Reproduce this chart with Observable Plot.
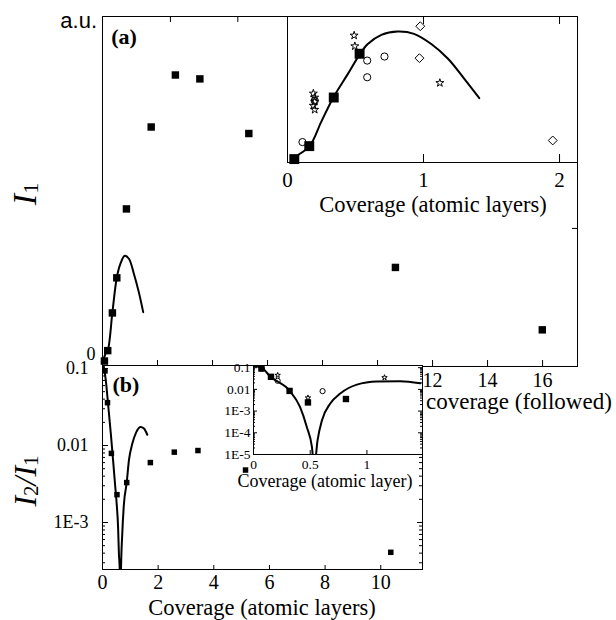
<!DOCTYPE html>
<html>
<head>
<meta charset="utf-8">
<script src="https://cdn.jsdelivr.net/npm/d3@7"></script>
<script src="https://cdn.jsdelivr.net/npm/@observablehq/plot@0.6"></script>
<style>
html, body { margin: 0; padding: 0; background: #fff; }
#chart { position: relative; width: 616px; height: 620px; overflow: hidden; }
#chart svg { position: absolute; left: 0; top: 0; }
#chart svg text { font-family: 'Liberation Serif', 'Times New Roman', Times, serif; }
#chart svg text.sans { font-family: 'Liberation Sans', Arial, sans-serif; }
</style>
</head>
<body>
<div id="chart"></div>
<script>
// ---------------- DATA ----------------
// Panel (a), main axes: I1 (a.u.) vs coverage
const aCov = [0.07, 0.19, 0.36, 0.52, 0.87, 1.77, 2.65, 3.54, 5.32, 10.65, 15.99];
const aI1  = [-0.02, 0.06, 0.35, 0.62, 1.15, 1.78, 2.18, 2.15, 1.73, 0.70, 0.22];
const aFitCov = [0.0, 0.11, 0.19, 0.36, 0.52, 0.65, 0.81, 0.96, 1.14, 1.32, 1.48];
const aFitI1  = [-0.04, 0.036, 0.06, 0.354, 0.623, 0.728, 0.79, 0.767, 0.652, 0.51, 0.356];
const aXTicks = [2, 4, 6, 8, 10, 12, 14, 16];
const aXTickLabels = [12, 14, 16];
const aTopTicks = [2.47, 4.92];
const aRightTicks = [1, 2];

// Panel (a), inset
const iaSqCov = [0.05, 0.16, 0.34, 0.53];
const iaSqI1  = [-0.03, 0.05, 0.35, 0.62];
const iaCircCov = [0.11, 0.20, 0.586, 0.586, 0.713];
const iaCircI1  = [0.075, 0.33, 0.578, 0.475, 0.603];
const iaStarCov = [0.19, 0.20, 0.20, 0.19, 0.20, 0.49, 0.495, 1.12];
const iaStarI1  = [0.375, 0.35, 0.325, 0.30, 0.275, 0.733, 0.667, 0.44];
const iaDiaCov = [0.976, 0.97, 1.95];
const iaDiaI1  = [0.79, 0.593, 0.085];
const iaFitCov = [0.03, 0.052, 0.162, 0.248, 0.338, 0.444, 0.53, 0.59, 0.69, 0.81, 0.93, 1.057, 1.18, 1.30, 1.41];
const iaFitI1  = [-0.03, -0.018, 0.05, 0.2, 0.352, 0.496, 0.615, 0.68, 0.737, 0.757, 0.743, 0.68, 0.589, 0.465, 0.346];
const iaXTicks = [0, 1, 2];
const iaInTicks = [1, 2];

// Panel (b), main axes: I2/I1 vs coverage
const bCov   = [0.09, 0.18, 0.32, 0.52, 0.87, 1.72, 2.58, 3.43, 5.14, 10.36];
const bRatio = [0.093, 0.036, 0.0079, 0.0023, 0.0033, 0.0060, 0.0082, 0.0086, 0.0048, 0.00041];
const bFitCov   = [0.02, 0.12, 0.20, 0.30, 0.38, 0.45, 0.51, 0.56, 0.59, 0.62, 0.64, 0.665, 0.71, 0.77, 0.87, 0.95, 1.07, 1.21, 1.37, 1.49, 1.61];
const bFitRatio = [0.120, 0.0698, 0.0347, 0.0141, 0.00646, 0.00316, 0.00174, 0.00087, 0.00039, 0.00024, 0.00003, 0.00024, 0.00071, 0.00174, 0.0033, 0.00646, 0.0105, 0.0148, 0.0174, 0.0166, 0.0138];
const bXTicks = [0, 2, 4, 6, 8, 10];
const bYTicks = [0.1, 0.01, 0.001];
const bYTickLabels = ["0.1", "0.01", "1E-3"];

// Panel (b), inset
const ibSqCov   = [0.07, 0.154, 0.318, 0.48, 0.815];
const ibSqRatio = [0.091, 0.038, 0.0085, 0.0025, 0.0036];
const ibCircCov   = [0.074, 0.213, 0.609];
const ibCircRatio = [0.091, 0.025, 0.0083];
const ibStarCov   = [0.213, 0.48, 1.155];
const ibStarRatio = [0.045, 0.0041, 0.035];
const ibFitCov   = [0, 0.07, 0.15, 0.32, 0.41, 0.47, 0.515, 0.535, 0.565, 0.604, 0.677, 0.765, 0.912, 1.09, 1.295, 1.47];
const ibFitRatio = [0.120, 0.1, 0.038, 0.0085, 0.00155, 0.000186, 0.0000224, 0.0000025, 0.000046, 0.00038, 0.00224, 0.00646, 0.0166, 0.0229, 0.024, 0.019];
const ibXTicks = [0, 0.5, 1];
const ibXTickLabels = ["0", "0.5", "1"];
const ibYTicks = [0.1, 0.01, 0.001, 0.0001, 0.00001];
const ibYTickLabels = ["0.1", "0.01", "1E-3", "1E-4", "1E-5"];

// ---------------- HELPERS ----------------
const W = 616, H = 620;
const serif = "'Liberation Serif', 'Times New Roman', Times, serif";
const sans = "'Liberation Sans', Arial, sans-serif";
const baseStyle = "background: transparent; font-family: 'Liberation Serif', 'Times New Roman', Times, serif; color: black; overflow: visible;";
const pts = (xs, ys) => xs.map((x, i) => ({x, y: ys[i]}));
const intFmt = d => String(d);
function logMinor(lo, hi) {
  const t = [];
  for (let e = Math.floor(Math.log10(lo)); e <= Math.ceil(Math.log10(hi)); e++)
    for (let m = 2; m <= 9; m++) { const v = m * Math.pow(10, e); if (v > lo && v < hi) t.push(v); }
  return t;
}
const diamondSym = d3.symbolDiamond2 || "diamond";
const container = document.getElementById("chart");

// ---------------- PANEL (a) MAIN ----------------
{
  const ml = 102, mr = 39, mt = 16, mb = 254;
  const fw = W - ml - mr, fh = H - mt - mb;
  container.appendChild(Plot.plot({
    width: W, height: H, marginLeft: ml, marginRight: mr, marginTop: mt, marginBottom: mb,
    style: baseStyle,
    x: {domain: [0, 17.27]},
    y: {domain: [-0.062, 2.63]},
    marks: [
      Plot.frame({stroke: "black"}),
      Plot.ruleX(aXTicks, {insetTop: fh - 6, stroke: "black"}),
      Plot.ruleX(aTopTicks, {insetBottom: fh - 6, stroke: "black"}),
      Plot.ruleY(aRightTicks, {insetLeft: fw - 5, stroke: "black"}),
      Plot.axisX({ticks: aXTickLabels, tickFormat: intFmt, tickSize: 0, tickPadding: 6, fontSize: 20, fontFamily: serif, label: null}),
      Plot.axisY({ticks: [0], tickFormat: intFmt, tickSize: 0, tickPadding: 7, fontSize: 18, fontFamily: serif, dy: -4, label: null}),
      Plot.line(pts(aFitCov, aFitI1), {x: "x", y: "y", curve: "catmull-rom", stroke: "black", strokeWidth: 2}),
      Plot.dot(pts(aCov, aI1), {x: "x", y: "y", symbol: "square", r: 4.2, fill: "black"})
    ]
  }));
}

// ---------------- PANEL (a) INSET ----------------
{
  const ml = 287, mr = 39, mt = 16, mb = 458;
  const fh = H - mt - mb;
  container.appendChild(Plot.plot({
    width: W, height: H, marginLeft: ml, marginRight: mr, marginTop: mt, marginBottom: mb,
    style: baseStyle,
    x: {domain: [0, 2.132]},
    y: {domain: [-0.051, 0.85], axis: null},
    marks: [
      Plot.frame({fill: "white", stroke: "black"}),
      Plot.ruleX(iaInTicks, {insetTop: fh - 8, stroke: "black"}),
      Plot.ruleX(iaInTicks, {insetBottom: fh - 8, stroke: "black"}),
      Plot.axisX({ticks: iaXTicks, tickFormat: intFmt, tickSize: 0, tickPadding: 10, fontSize: 21, fontFamily: serif, label: null}),
      Plot.line(pts(iaFitCov, iaFitI1), {x: "x", y: "y", curve: "catmull-rom", stroke: "black", strokeWidth: 2}),
      Plot.dot(pts(iaCircCov, iaCircI1), {x: "x", y: "y", symbol: "circle", r: 3.6, fill: "none", stroke: "black", strokeWidth: 1}),
      Plot.dot(pts(iaStarCov, iaStarI1), {x: "x", y: "y", symbol: "star", r: 2.5, fill: "none", stroke: "black", strokeWidth: 1}),
      Plot.dot(pts(iaDiaCov, iaDiaI1), {x: "x", y: "y", symbol: diamondSym, r: 4, fill: "none", stroke: "black", strokeWidth: 1}),
      Plot.dot(pts(iaSqCov, iaSqI1), {x: "x", y: "y", symbol: "square", r: 5.6, fill: "black"})
    ]
  }));
}

// ---------------- PANEL (b) MAIN ----------------
{
  const ml = 102, mr = 194, mt = 365, mb = 51;
  const fw = W - ml - mr, fh = H - mt - mb;
  const yDom = [2.452e-4, 0.1094];
  const minor = logMinor(yDom[0], yDom[1]);
  container.appendChild(Plot.plot({
    width: W, height: H, marginLeft: ml, marginRight: mr, marginTop: mt, marginBottom: mb,
    style: baseStyle,
    x: {domain: [0, 11.5]},
    y: {type: "log", domain: yDom},
    marks: [
      Plot.frame({fill: "white", stroke: "black"}),
      Plot.ruleX(bXTicks.slice(1), {insetTop: fh - 4, stroke: "black"}),
      Plot.ruleY(bYTicks, {insetRight: fw - 6, stroke: "black"}),
      Plot.ruleY(minor, {insetRight: fw - 3, stroke: "black"}),
      Plot.ruleY(bYTicks, {insetLeft: fw - 5, stroke: "black"}),
      Plot.ruleY(minor, {insetLeft: fw - 3, stroke: "black"}),
      Plot.axisX({ticks: bXTicks, tickFormat: intFmt, tickSize: 0, tickPadding: 5, fontSize: 20, fontFamily: serif, label: null}),
      Plot.axisY({ticks: bYTicks, tickFormat: d => bYTickLabels[bYTicks.indexOf(d)], tickSize: 0, tickPadding: 14, fontSize: 18, fontFamily: serif, label: null}),
      Plot.line(pts(bFitCov, bFitRatio), {x: "x", y: "y", curve: "monotone-x", stroke: "black", strokeWidth: 2, clip: true}),
      Plot.dot(pts(bCov, bRatio), {x: "x", y: "y", symbol: "square", r: 3.1, fill: "black"})
    ]
  }));
}

// ---------------- PANEL (b) INSET ----------------
{
  const ml = 253, mr = 194, mt = 365, mb = 166;
  const fw = W - ml - mr, fh = H - mt - mb;
  const yDom = [1e-5, 0.126];
  const minor = logMinor(yDom[0], yDom[1]);
  container.appendChild(Plot.plot({
    width: W, height: H, marginLeft: ml, marginRight: mr, marginTop: mt, marginBottom: mb,
    style: baseStyle,
    x: {domain: [0, 1.49]},
    y: {type: "log", domain: yDom},
    marks: [
      Plot.frame({fill: "white", stroke: "black"}),
      Plot.ruleX(ibXTicks.slice(1), {insetTop: fh - 4, stroke: "black"}),
      Plot.ruleY(ibYTicks, {insetRight: fw - 4, stroke: "black"}),
      Plot.ruleY(minor, {insetRight: fw - 2, stroke: "black"}),
      Plot.ruleY(ibYTicks, {insetLeft: fw - 4, stroke: "black"}),
      Plot.ruleY(minor, {insetLeft: fw - 2, stroke: "black"}),
      Plot.axisX({ticks: ibXTicks, tickFormat: d => ibXTickLabels[ibXTicks.indexOf(d)], tickSize: 0, tickPadding: 5, fontSize: 13.5, fontFamily: serif, label: null}),
      Plot.axisY({ticks: ibYTicks, tickFormat: d => ibYTickLabels[ibYTicks.indexOf(d)], tickSize: 0, tickPadding: 3, fontSize: 13.5, fontFamily: serif, label: null}),
      Plot.line(pts(ibFitCov, ibFitRatio), {x: "x", y: "y", curve: "monotone-x", stroke: "black", strokeWidth: 2, clip: true}),
      Plot.dot(pts(ibCircCov, ibCircRatio), {x: "x", y: "y", symbol: "circle", r: 2.6, fill: "none", stroke: "black", strokeWidth: 1}),
      Plot.dot(pts(ibStarCov, ibStarRatio), {x: "x", y: "y", symbol: "star", r: 1.7, fill: "none", stroke: "black", strokeWidth: 1}),
      Plot.dot(pts(ibSqCov, ibSqRatio), {x: "x", y: "y", symbol: "square", r: 3.6, fill: "black"})
    ]
  }));
}

// ---------------- LABEL OVERLAY ----------------
{
  const ov = d3.create("svg").attr("width", W).attr("height", H).attr("viewBox", `0 0 ${W} ${H}`)
    .style("font-family", serif).style("overflow", "visible");
  const txt = (x, y, s, size, anchor, extra = {}) => {
    const t = ov.append("text").attr("x", x).attr("y", y).attr("font-size", size)
      .attr("text-anchor", anchor).attr("fill", "black").text(s);
    for (const k in extra) t.attr(k, extra[k]);
    return t;
  };
  txt(97, 28, "a.u.", 22, "end", {"class": "sans"});
  txt(124, 44, "(a)", 22, "middle", {"font-weight": "bold"});
  txt(126, 392, "(b)", 22, "middle", {"font-weight": "bold"});
  txt(426, 409, "coverage (followed)", 23, "start");
  txt(433, 212, "Coverage (atomic layers)", 22.5, "middle");
  txt(262, 615, "Coverage (atomic layers)", 22.5, "middle");
  txt(325, 487, "Coverage (atomic layer)", 18, "middle");

  const y1 = ov.append("text").attr("transform", "translate(36,194) rotate(-90)").attr("text-anchor", "middle").attr("fill", "black");
  y1.append("tspan").attr("font-style", "italic").attr("font-size", 34).text("I");
  y1.append("tspan").attr("font-size", 22).attr("dy", 2).text("1");

  const y2 = ov.append("text").attr("transform", "translate(36,481) rotate(-90)").attr("text-anchor", "middle").attr("fill", "black");
  y2.append("tspan").attr("font-style", "italic").attr("font-size", 32).text("I");
  y2.append("tspan").attr("font-size", 21).attr("dy", 2).text("2");
  y2.append("tspan").attr("font-style", "italic").attr("font-size", 32).attr("dy", -2).text("/");
  y2.append("tspan").attr("font-style", "italic").attr("font-size", 32).text("I");
  y2.append("tspan").attr("font-size", 21).attr("dy", 2).text("1");
  container.appendChild(ov.node());
}
</script>
</body>
</html>
